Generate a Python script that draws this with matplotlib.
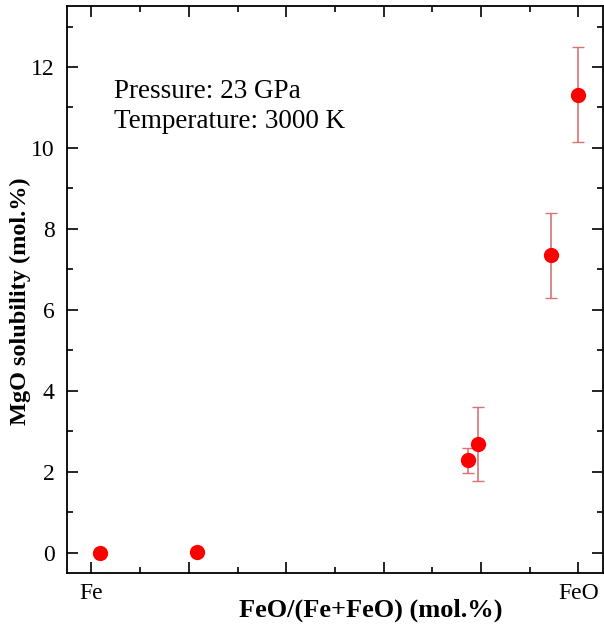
import matplotlib
matplotlib.use("Agg")
import matplotlib.pyplot as plt
from matplotlib.ticker import MultipleLocator

# Data
x_vals = [1.8, 21.7, 77.3, 79.3, 94.3, 100.0]
y_vals = [0.0, 0.03, 2.29, 2.69, 7.35, 11.32]
y_err = [0.0, 0.0, 0.31, 0.91, 1.05, 1.18]
x_tick_pos = [0, 20, 40, 60, 80, 100]
x_tick_labels = ["Fe", "", "", "", "", "FeO"]
y_tick_pos = [0, 2, 4, 6, 8, 10, 12]

plt.rcParams['font.family'] = ['Liberation Serif', 'DejaVu Serif']

fig = plt.figure(figsize=(6.04, 6.28), dpi=100)
ax = fig.add_axes([0.111, 0.0876, 0.887, 0.9024])

ax.errorbar(x_vals, y_vals, yerr=y_err, fmt='none', ecolor=(0.85, 0.45, 0.45),
            elinewidth=1.2, capsize=4.5, capthick=1.0, zorder=2)
ax.plot(x_vals, y_vals, 'o', color='#ff0000', markersize=11, markeredgewidth=0, zorder=3)

ax.set_xlim(-5, 105)
ax.set_ylim(-0.5, 13.5)
ax.set_xticks(x_tick_pos)
ax.set_xticklabels(x_tick_labels)
ax.xaxis.set_minor_locator(MultipleLocator(10))
ax.set_yticks(y_tick_pos)
ax.yaxis.set_minor_locator(MultipleLocator(1))

ax.tick_params(which='both', direction='in', top=True, right=True, labelsize=17, width=1.2)
ax.tick_params(axis='y', pad=9)
ax.tick_params(axis='x', pad=7)
ax.tick_params(which='major', length=8)
ax.tick_params(which='minor', length=4)
for s in ax.spines.values():
    s.set_linewidth(1.3)

ax.set_xlabel("FeO/(Fe+FeO) (mol.%)", fontsize=19, fontweight='bold')
ax.xaxis.set_label_coords(0.567, -0.045)
ax.set_ylabel("MgO solubility (mol.%)", fontsize=17.5, fontweight='bold')
ax.yaxis.set_label_coords(-0.068, 0.48)

ax.text(0.087, 0.823, "Pressure: 23 GPa\nTemperature: 3000 K", transform=ax.transAxes,
        fontsize=19.5, va='center', ha='left', linespacing=1.3)

fig.savefig("out.png", dpi=100)
